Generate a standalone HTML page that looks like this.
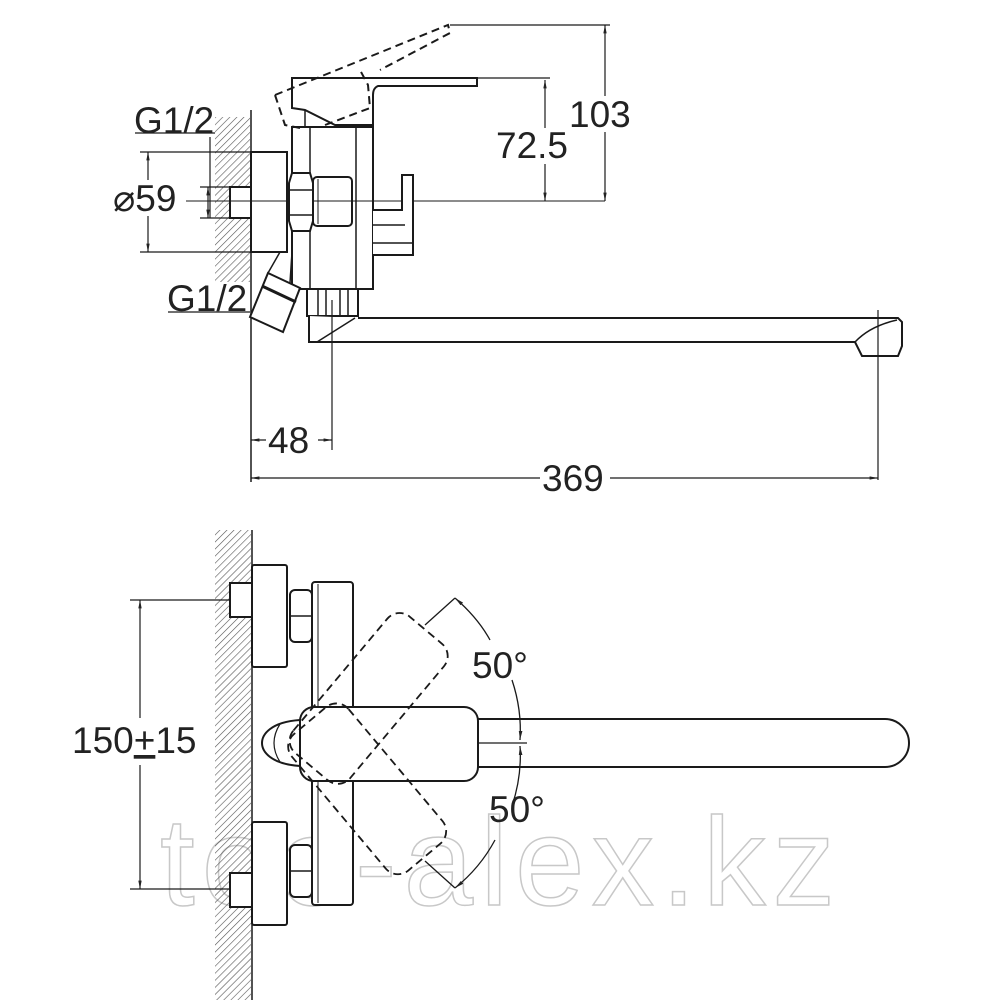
<!DOCTYPE html>
<html><head><meta charset="utf-8"><style>
html,body{margin:0;padding:0;background:#fff;}
svg{display:block}
text{font-family:"Liberation Sans",Arial,sans-serif;fill:#222}
</style></head><body>
<svg width="1000" height="1000" viewBox="0 0 1000 1000" xmlns="http://www.w3.org/2000/svg">
<defs>
<pattern id="h" width="5" height="5" patternUnits="userSpaceOnUse" patternTransform="rotate(45)">
<line x1="0" y1="0" x2="0" y2="5" stroke="#555" stroke-width="1.2"/>
</pattern>
<marker id="a" viewBox="0 0 10 10" refX="10" refY="5" markerWidth="7" markerHeight="7" orient="auto-start-reverse"><path d="M0,3 L10,5 L0,7 z" fill="#222"/></marker>
</defs>

<!-- watermark -->
<text x="160" y="905" font-size="125" fill="none" stroke="#c8c8c8" stroke-width="1.5" style="fill:none" textLength="675">too-alex.kz</text>

<g stroke="#1a1a1a" fill="none" stroke-width="2">
<!-- TOP VIEW -->
<rect x="215" y="117" width="35" height="165" fill="url(#h)" stroke="none"/>
<line x1="251" y1="110" x2="251" y2="482" stroke-width="1.5"/>
<rect x="251" y="152" width="36" height="100" fill="#fff"/>
<rect x="230" y="187" width="21" height="31" fill="#fff"/>
<!-- body -->
<rect x="292" y="127" width="81" height="162" fill="#fff"/>
<line x1="310" y1="127" x2="310" y2="289" stroke-width="1.5"/>
<line x1="356" y1="127" x2="356" y2="289" stroke-width="1.5"/>
<line x1="120" y1="201" x2="605" y2="201" stroke-width="1"/>
<!-- nut -->
<path d="M292,173 h18 l3,10 v38 l-3,10 h-18 l-3,-10 v-38 z" fill="#fff"/>
<line x1="290" y1="190" x2="312" y2="190" stroke-width="1.5"/>
<line x1="290" y1="215" x2="312" y2="215" stroke-width="1.5"/>
<rect x="313" y="177" width="39" height="49" rx="4" fill="#fff"/>
<line x1="318" y1="179" x2="318" y2="224" stroke-width="1"/>
<line x1="313" y1="201" x2="352" y2="201" stroke-width="1"/>
<!-- handle -->
<path d="M292,78 H477 V86 H378 Q373,88 373,95 V125 H335 L305,110 L292,108 Z" fill="#fff"/>
<line x1="305" y1="110" x2="305" y2="127" stroke-width="1.5"/>
<path d="M275,95 L448,25 L450,33 L380,70 M275,95 L285,125 L300,128 M325,125 L370,108 L368,85 L360,70" stroke-dasharray="8,5"/>
<!-- side lever -->
<path d="M373,210 H402 V175 H413 V255 H373" fill="#fff"/>
<line x1="373" y1="225" x2="405" y2="225" stroke-width="1.5"/>
<line x1="373" y1="243" x2="413" y2="243" stroke-width="1.5"/>
<!-- diverter -->
<path d="M268,273 L300,288 L283,332 L250,317 Z" fill="#fff"/>
<line x1="262" y1="286" x2="296" y2="302" stroke-width="3"/>
<line x1="280" y1="252" x2="268" y2="273" stroke-width="1.5"/>
<line x1="292" y1="252" x2="290" y2="283" stroke-width="1.5"/>
<!-- aerator -->
<rect x="307" y="289" width="51" height="27" fill="#fff"/>
<line x1="318" y1="289" x2="318" y2="316" stroke-width="1.5"/>
<line x1="326" y1="289" x2="326" y2="316" stroke-width="1.5"/>
<line x1="340" y1="289" x2="340" y2="316" stroke-width="1.5"/>
<line x1="348" y1="289" x2="348" y2="316" stroke-width="1.5"/>
<!-- spout -->
<path d="M309,316 V342 H855 L862,356 H898 L902,346 V322 L898,318 H358" fill="#fff"/>
<path d="M855,342 Q870,326 897,320" stroke-width="1.5"/>
<line x1="317" y1="342" x2="355" y2="318" stroke-width="1.5"/>
<line x1="878" y1="310" x2="878" y2="480" stroke-width="1.2"/>
<line x1="332" y1="300" x2="332" y2="450" stroke-width="1.2"/>

<!-- dims top -->
<g stroke-width="1.2">
<line x1="450" y1="25" x2="610" y2="25"/>
<line x1="478" y1="78" x2="550" y2="78"/>
<line x1="605" y1="25" x2="605" y2="201" marker-start="url(#a)" marker-end="url(#a)"/>
<line x1="545" y1="80" x2="545" y2="201" marker-start="url(#a)" marker-end="url(#a)"/>
<line x1="140" y1="152" x2="251" y2="152"/>
<line x1="140" y1="252" x2="251" y2="252"/>
<line x1="148" y1="152" x2="148" y2="252" marker-start="url(#a)" marker-end="url(#a)"/>
<line x1="200" y1="187" x2="230" y2="187"/>
<line x1="200" y1="218" x2="230" y2="218"/>
<line x1="210" y1="137" x2="210" y2="218"/>
<line x1="208" y1="187" x2="208" y2="218" marker-start="url(#a)" marker-end="url(#a)"/>
<line x1="135" y1="133" x2="215" y2="133"/>
<line x1="168" y1="312" x2="250" y2="312"/>
<line x1="251" y1="440" x2="332" y2="440" marker-start="url(#a)" marker-end="url(#a)"/>
<line x1="251" y1="478" x2="878" y2="478" marker-start="url(#a)" marker-end="url(#a)"/>
</g>
<!-- white gaps behind labels -->
<g fill="#fff" stroke="none">
<rect x="568" y="96" width="66" height="36"/>
<rect x="495" y="128" width="82" height="36"/>
<rect x="112" y="180" width="74" height="36"/>
<rect x="266" y="425" width="52" height="30"/>
<rect x="540" y="463" width="70" height="30"/>
</g>

<!-- BOTTOM VIEW -->
<rect x="215" y="530" width="36" height="470" fill="url(#h)" stroke="none"/>
<line x1="252" y1="530" x2="252" y2="1000" stroke-width="1.5"/>
<rect x="252" y="565" width="35" height="102" fill="#fff" rx="2"/>
<rect x="252" y="822" width="35" height="103" fill="#fff" rx="2"/>
<rect x="230" y="583" width="22" height="34" fill="#fff"/>
<rect x="230" y="873" width="22" height="34" fill="#fff"/>
<rect x="290" y="590" width="22" height="52" rx="5" fill="#fff"/>
<line x1="290" y1="616" x2="312" y2="616" stroke-width="1.5"/>
<rect x="290" y="845" width="22" height="52" rx="5" fill="#fff"/>
<line x1="290" y1="871" x2="312" y2="871" stroke-width="1.5"/>
<rect x="312" y="582" width="41" height="323" rx="3" fill="#fff"/>
<line x1="318" y1="584" x2="318" y2="903" stroke-width="1"/>
<!-- spout -->
<path d="M478,719 H885 A24,24 0 0 1 885,767 H478" fill="#fff"/>
<line x1="478" y1="743" x2="527" y2="743" stroke-width="1.2"/>
<!-- cap -->
<path d="M300,720 C270,722 262,735 262,743 C262,751 270,764 300,766 Z" fill="#fff"/>
<path d="M280,724 Q268,743 280,762" stroke-width="1.2"/>
<!-- handle -->
<rect x="300" y="707" width="178" height="74" rx="14" fill="#fff"/>
<!-- dashed handles -->
<g stroke-dasharray="8,5" stroke-width="1.8">
<rect x="300" y="707" width="178" height="74" rx="16" transform="rotate(-50 330 743)"/>
<rect x="300" y="707" width="178" height="74" rx="16" transform="rotate(50 330 743)"/>
</g>
<!-- angle arcs -->
<g stroke-width="1.3">
<line x1="425" y1="625" x2="455" y2="598"/>
<line x1="425" y1="861" x2="455" y2="888"/>
<path d="M455,598 Q478,618 490,640" marker-start="url(#a)"/>
<path d="M512,680 Q522,710 520,740" marker-end="url(#a)"/>
<path d="M520,746 Q522,776 512,806" marker-start="url(#a)"/>
<path d="M495,840 Q480,868 455,888" marker-end="url(#a)"/>
</g>
<g stroke-width="1.2">
<line x1="130" y1="600" x2="230" y2="600"/>
<line x1="130" y1="889" x2="230" y2="889"/>
<line x1="140" y1="600" x2="140" y2="718" marker-start="url(#a)"/>
<line x1="140" y1="765" x2="140" y2="889" marker-end="url(#a)"/>
</g>
</g>

<g font-size="37">
<text x="134" y="133">G1/2</text>
<text x="167" y="311">G1/2</text>
<text x="113" y="211">⌀59</text>
<text x="569" y="127">103</text>
<text x="496" y="158">72.5</text>
<text x="268" y="453">48</text>
<text x="542" y="491">369</text>
<text x="472" y="678">50°</text>
<text x="489" y="822">50°</text>
<text x="72" y="753">150<tspan text-decoration="underline">+</tspan>15</text>
</g>
</svg>
</body></html>
